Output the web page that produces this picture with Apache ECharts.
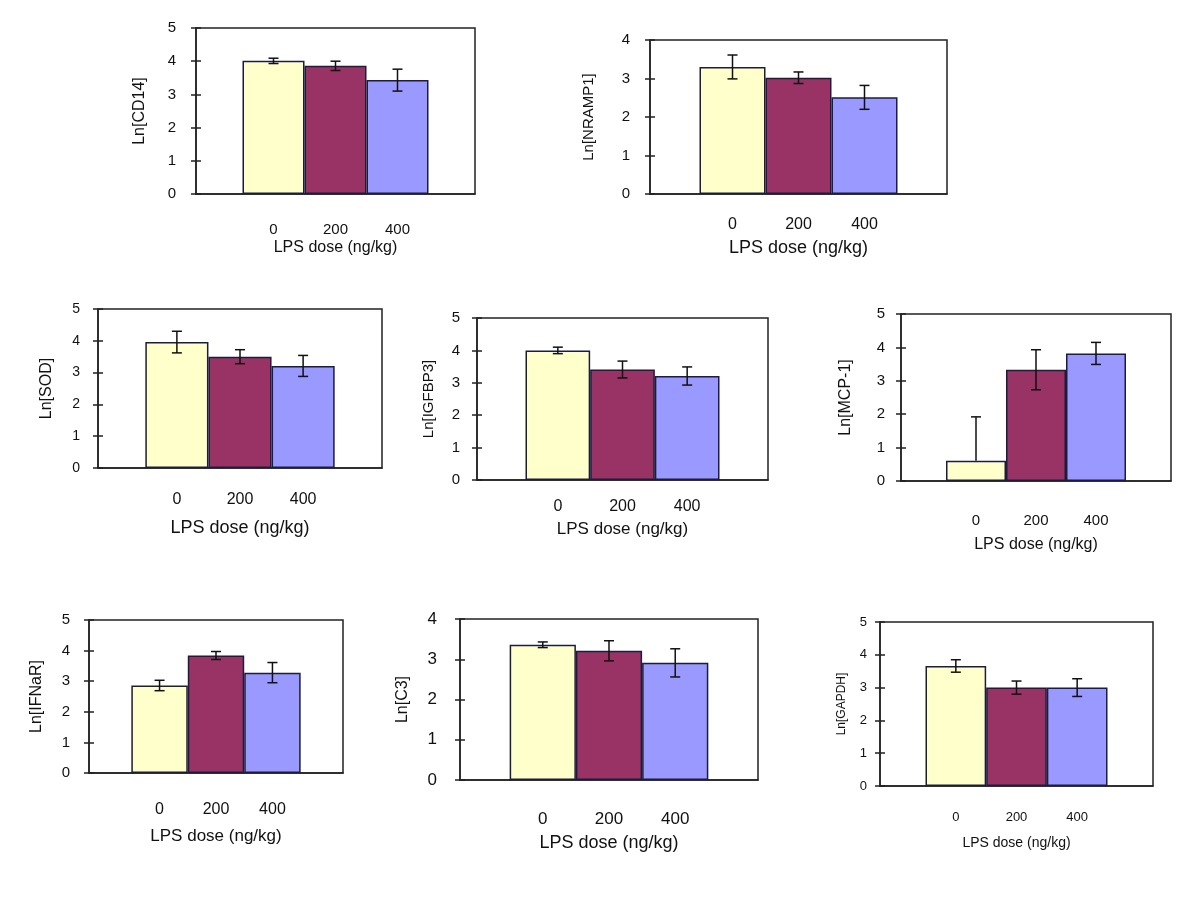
<!DOCTYPE html>
<html>
<head>
<meta charset="utf-8">
<script src="https://cdn.jsdelivr.net/npm/echarts@6/dist/echarts.min.js"></script>
<style>
  html, body { margin: 0; background: #fff; }
  #chart { width: 1200px; height: 900px; }
</style>
</head>
<body>
<div id="chart"></div>
<script>
  // LPS dose groups (ng/kg)
  const doses = [0, 200, 400]
  const xName = 'LPS dose (ng/kg)'
  const barColors = ['#FFFFCC', '#993366', '#9999FF']

  // Ln[expression] means and error bars
  const cd14Mean = [4.01, 3.86, 3.43]
  const cd14Err = [0.08, 0.14, 0.33]
  const nramp1Mean = [3.30, 3.02, 2.51]
  const nramp1Err = [0.31, 0.15, 0.31]
  const sodMean = [3.96, 3.50, 3.21]
  const sodErr = [0.34, 0.22, 0.33]
  const igfbp3Mean = [4.00, 3.41, 3.21]
  const igfbp3Err = [0.10, 0.26, 0.28]
  const mcp1Mean = [0.61, 3.33, 3.82]
  const mcp1ErrUp = [1.31, 0.60, 0.33]
  const mcp1ErrDown = [0, 0.60, 0.33] // 0 dose: only the upper half is shown
  const ifnarMean = [2.86, 3.84, 3.28]
  const ifnarErr = [0.17, 0.13, 0.33]
  const c3Mean = [3.36, 3.21, 2.91]
  const c3Err = [0.07, 0.25, 0.35]
  const gapdhMean = [3.66, 3.00, 3.00]
  const gapdhErr = [0.19, 0.20, 0.27]

  const font = 'Arial, "Liberation Sans", sans-serif'

  // layout of each small chart (pixels)
  const panels = [
    { yName: 'Ln[CD14]', mean: cd14Mean, up: cd14Err, down: cd14Err, yMax: 5,
      left: 196, top: 28, width: 279, height: 166,
      yNameGap: 48, yNameSize: 16, yLabelSize: 15, yLabelMargin: 20,
      xLabelSize: 15, xLabelMargin: 28, xNameSize: 16, xNameGap: 46 },
    { yName: 'Ln[NRAMP1]', mean: nramp1Mean, up: nramp1Err, down: nramp1Err, yMax: 4,
      left: 650, top: 40, width: 297, height: 154,
      yNameGap: 54, yNameSize: 15, yLabelSize: 15, yLabelMargin: 20,
      xLabelSize: 16, xLabelMargin: 23, xNameSize: 18, xNameGap: 45 },
    { yName: 'Ln[SOD]', mean: sodMean, up: sodErr, down: sodErr, yMax: 5,
      left: 98, top: 309, width: 284, height: 159,
      yNameGap: 43, yNameSize: 16, yLabelSize: 14, yLabelMargin: 18,
      xLabelSize: 16, xLabelMargin: 24, xNameSize: 18, xNameGap: 51 },
    { yName: 'Ln[IGFBP3]', mean: igfbp3Mean, up: igfbp3Err, down: igfbp3Err, yMax: 5,
      left: 477, top: 318, width: 291, height: 162,
      yNameGap: 41, yNameSize: 15, yLabelSize: 15, yLabelMargin: 17,
      xLabelSize: 16, xLabelMargin: 19, xNameSize: 17, xNameGap: 41 },
    { yName: 'Ln[MCP-1]', mean: mcp1Mean, up: mcp1ErrUp, down: mcp1ErrDown, yMax: 5,
      left: 901, top: 314, width: 270, height: 167,
      yNameGap: 47, yNameSize: 16, yLabelSize: 15, yLabelMargin: 16,
      xLabelSize: 15, xLabelMargin: 32, xNameSize: 16, xNameGap: 56 },
    { yName: 'Ln[IFNaR]', mean: ifnarMean, up: ifnarErr, down: ifnarErr, yMax: 5,
      left: 89, top: 620, width: 254, height: 153,
      yNameGap: 44, yNameSize: 16, yLabelSize: 15, yLabelMargin: 19,
      xLabelSize: 16, xLabelMargin: 29, xNameSize: 17, xNameGap: 55 },
    { yName: 'Ln[C3]', mean: c3Mean, up: c3Err, down: c3Err, yMax: 4,
      left: 460, top: 619, width: 298, height: 161,
      yNameGap: 49, yNameSize: 16, yLabelSize: 17, yLabelMargin: 23,
      xLabelSize: 17, xLabelMargin: 31, xNameSize: 18, xNameGap: 54 },
    { yName: 'Ln[GAPDH]', mean: gapdhMean, up: gapdhErr, down: gapdhErr, yMax: 5,
      left: 880, top: 622, width: 273, height: 164,
      yNameGap: 32, yNameSize: 12, yLabelSize: 13, yLabelMargin: 13,
      xLabelSize: 13, xLabelMargin: 25, xNameSize: 14, xNameGap: 50 }
  ]

  const lineColor = '#222'
  const textColor = '#111'

  function errorBarItem(params, api) {
    const x = api.value(0)
    const y = api.value(1)
    const up = api.value(2)
    const down = api.value(3)
    const hi = api.coord([x, y + up])
    const lo = api.coord([x, y - down])
    const cap = 5
    const style = { stroke: '#111', lineWidth: 1.5 }
    const children = [
      { type: 'line', shape: { x1: hi[0], y1: hi[1], x2: lo[0], y2: lo[1] }, style },
      { type: 'line', shape: { x1: hi[0] - cap, y1: hi[1], x2: hi[0] + cap, y2: hi[1] }, style }
    ]
    if (down > 0) {
      children.push({ type: 'line', shape: { x1: lo[0] - cap, y1: lo[1], x2: lo[0] + cap, y2: lo[1] }, style })
    }
    return { type: 'group', children }
  }

  const grid = []
  const xAxis = []
  const yAxis = []
  const series = []

  panels.forEach((p, k) => {
    grid.push({
      left: p.left, top: p.top, width: p.width, height: p.height,
      show: true, borderColor: lineColor, borderWidth: 1.5, backgroundColor: 'transparent',
      outerBoundsMode: 'none'
    })
    xAxis.push({
      type: 'value', gridIndex: k, min: -250, max: 650, position: 'bottom',
      name: xName, nameLocation: 'middle', nameGap: p.xNameGap, nameMoveOverlap: false,
      nameTextStyle: { fontFamily: font, fontSize: p.xNameSize, color: textColor },
      axisLine: { show: true, onZero: false, lineStyle: { color: lineColor, width: 1.5 } },
      axisTick: { show: false },
      splitLine: { show: false },
      axisLabel: {
        customValues: doses, margin: p.xLabelMargin,
        fontFamily: font, fontSize: p.xLabelSize, color: textColor
      }
    })
    // main y axis: line, outward ticks, labels, name
    yAxis.push({
      type: 'value', gridIndex: k, min: 0, max: p.yMax, interval: 1, position: 'left',
      name: p.yName, nameLocation: 'middle', nameGap: p.yNameGap, nameMoveOverlap: false,
      nameTextStyle: { fontFamily: font, fontSize: p.yNameSize, color: textColor },
      axisLine: { show: true, onZero: false, lineStyle: { color: lineColor, width: 1.5 } },
      axisTick: { show: true, length: 5, lineStyle: { color: lineColor, width: 1.5 } },
      splitLine: { show: false },
      axisLabel: { margin: p.yLabelMargin, fontFamily: font, fontSize: p.yLabelSize, color: textColor }
    })
    // second y axis only for the inward half of the cross ticks
    yAxis.push({
      type: 'value', gridIndex: k, min: 0, max: p.yMax, interval: 1, position: 'left', offset: 0,
      axisLine: { show: false, onZero: false },
      axisTick: { show: true, inside: true, length: 5, lineStyle: { color: lineColor, width: 1.5 } },
      axisLabel: { show: false },
      splitLine: { show: false }
    })
    series.push({
      type: 'bar', xAxisIndex: k, yAxisIndex: 2 * k,
      barWidth: '100%',
      data: doses.map((d, i) => ({
        value: [d, p.mean[i]],
        itemStyle: { color: barColors[i], borderColor: '#1c1c3c', borderWidth: 1.5 }
      }))
    })
    series.push({
      type: 'custom', xAxisIndex: k, yAxisIndex: 2 * k, z: 5,
      renderItem: errorBarItem,
      data: doses.map((d, i) => [d, p.mean[i], p.up[i], p.down[i]])
    })
  })

  const chart = echarts.init(document.getElementById('chart'))
  chart.setOption({
    backgroundColor: '#fff',
    animation: false,
    grid,
    xAxis,
    yAxis,
    series
  })
</script>
</body>
</html>
